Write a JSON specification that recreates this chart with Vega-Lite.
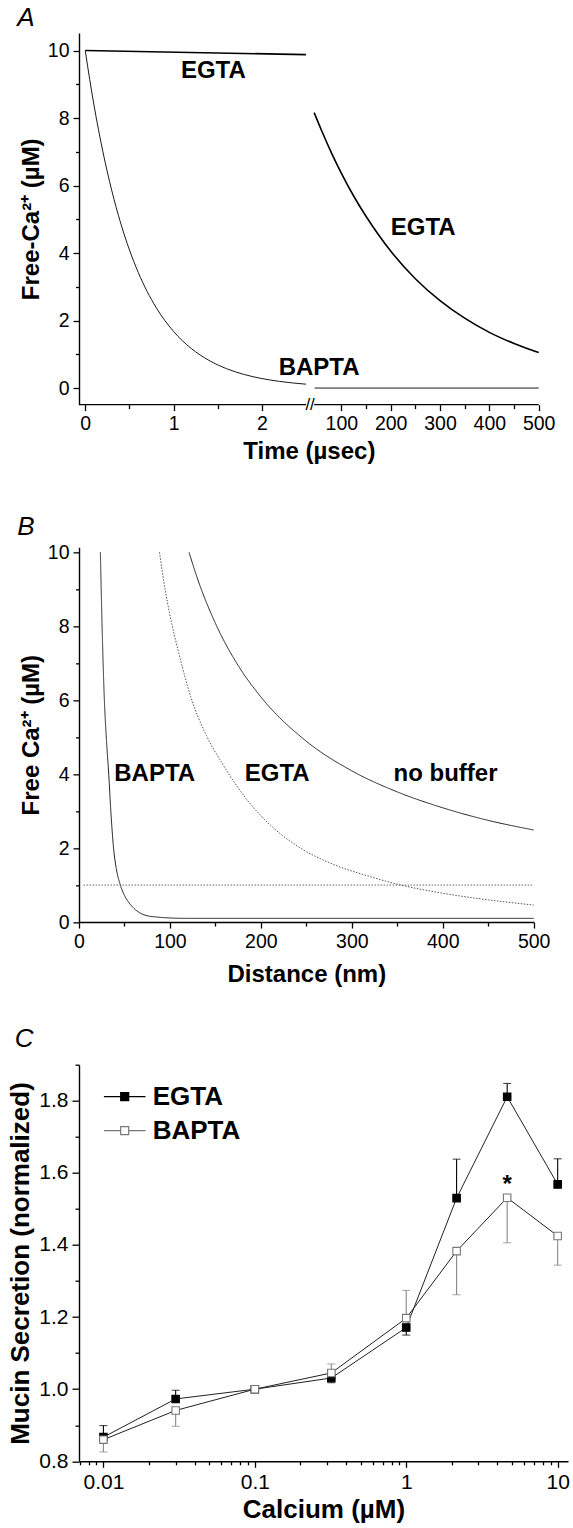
{
  "$schema": "https://vega.github.io/schema/vega-lite/v6.json",
  "padding": {"left": 7, "top": 5, "right": 0, "bottom": 5},
  "bounds": "flush",
  "spacing": 142.35,
  "resolve": {"scale": {"fill": "independent", "stroke": "independent", "color": "independent", "strokeWidth": "independent", "strokeDash": "independent"}, "legend": {"fill": "independent", "stroke": "independent"}},
  "config": {
    "view": {"stroke": null},
    "font": "Liberation Sans",
    "axis": {"grid": false, "domainColor": "#000", "domainWidth": 1.4, "tickColor": "#000", "tickWidth": 1.3, "labelColor": "#000", "labelFont": "Liberation Sans", "labelFontSize": 19.5, "labelPadding": 4, "titleFont": "Liberation Sans", "titleFontSize": 24, "titleFontWeight": "bold", "titleColor": "#000", "labelOverlap": false, "labelFlush": false, "tickCount": 200},
    "title": {"font": "Liberation Sans", "fontStyle": "italic", "fontWeight": "normal", "fontSize": 26, "anchor": "start", "frame": "bounds", "color": "#000"},
    "text": {"font": "Liberation Sans", "fontWeight": "bold", "fontSize": 24, "color": "#000"}
  },
  "datasets": {
    "aLines": [
      {"segment": "e1", "buffer": "EGTA", "t": 0, "v": 10},
      {"segment": "e1", "buffer": "EGTA", "t": 2.5, "v": 9.88},
      {"segment": "b1", "buffer": "BAPTA", "t": 0, "v": 10},
      {"segment": "b1", "buffer": "BAPTA", "t": 0.05, "v": 9.146},
      {"segment": "b1", "buffer": "BAPTA", "t": 0.1, "v": 8.364},
      {"segment": "b1", "buffer": "BAPTA", "t": 0.2, "v": 6.997},
      {"segment": "b1", "buffer": "BAPTA", "t": 0.3, "v": 5.853},
      {"segment": "b1", "buffer": "BAPTA", "t": 0.4, "v": 4.895},
      {"segment": "b1", "buffer": "BAPTA", "t": 0.5, "v": 4.095},
      {"segment": "b1", "buffer": "BAPTA", "t": 0.6, "v": 3.425},
      {"segment": "b1", "buffer": "BAPTA", "t": 0.8, "v": 2.397},
      {"segment": "b1", "buffer": "BAPTA", "t": 1.0, "v": 1.677},
      {"segment": "b1", "buffer": "BAPTA", "t": 1.2, "v": 1.173},
      {"segment": "b1", "buffer": "BAPTA", "t": 1.4, "v": 0.821},
      {"segment": "b1", "buffer": "BAPTA", "t": 1.6, "v": 0.574},
      {"segment": "b1", "buffer": "BAPTA", "t": 1.8, "v": 0.402},
      {"segment": "b1", "buffer": "BAPTA", "t": 2.0, "v": 0.281},
      {"segment": "b1", "buffer": "BAPTA", "t": 2.2, "v": 0.197},
      {"segment": "b1", "buffer": "BAPTA", "t": 2.5, "v": 0.115},
      {"segment": "e2", "buffer": "EGTA", "t": 45, "v": 8.16},
      {"segment": "e2", "buffer": "EGTA", "t": 60, "v": 7.63},
      {"segment": "e2", "buffer": "EGTA", "t": 80, "v": 6.97},
      {"segment": "e2", "buffer": "EGTA", "t": 100, "v": 6.37},
      {"segment": "e2", "buffer": "EGTA", "t": 125, "v": 5.69},
      {"segment": "e2", "buffer": "EGTA", "t": 150, "v": 5.09},
      {"segment": "e2", "buffer": "EGTA", "t": 175, "v": 4.55},
      {"segment": "e2", "buffer": "EGTA", "t": 200, "v": 4.06},
      {"segment": "e2", "buffer": "EGTA", "t": 250, "v": 3.24},
      {"segment": "e2", "buffer": "EGTA", "t": 300, "v": 2.59},
      {"segment": "e2", "buffer": "EGTA", "t": 350, "v": 2.07},
      {"segment": "e2", "buffer": "EGTA", "t": 400, "v": 1.65},
      {"segment": "e2", "buffer": "EGTA", "t": 450, "v": 1.32},
      {"segment": "e2", "buffer": "EGTA", "t": 500, "v": 1.05},
      {"segment": "b2", "buffer": "BAPTA", "t": 46, "v": 0},
      {"segment": "b2", "buffer": "BAPTA", "t": 500, "v": 0}
    ],
    "aAxisSegs": [
      {"from": -0.071, "to": 2.5},
      {"from": 45, "to": 500}
    ],
    "aLabels": [
      {"t": 1.45, "v": 9.38, "label": "EGTA"},
      {"t": 266, "v": 4.74, "label": "EGTA"},
      {"t": 55, "v": 0.59, "label": "BAPTA"}
    ],
    "bLines": [
      {"curve": "BAPTA", "d": 23.5, "c": 10},
      {"curve": "BAPTA", "d": 25.4, "c": 8},
      {"curve": "BAPTA", "d": 27.9, "c": 6},
      {"curve": "BAPTA", "d": 30, "c": 5},
      {"curve": "BAPTA", "d": 32.7, "c": 4},
      {"curve": "BAPTA", "d": 35, "c": 3},
      {"curve": "BAPTA", "d": 38, "c": 2},
      {"curve": "BAPTA", "d": 41, "c": 1.45},
      {"curve": "BAPTA", "d": 45.5, "c": 1},
      {"curve": "BAPTA", "d": 50, "c": 0.72},
      {"curve": "BAPTA", "d": 54.8, "c": 0.53},
      {"curve": "BAPTA", "d": 60, "c": 0.38},
      {"curve": "BAPTA", "d": 67.6, "c": 0.24},
      {"curve": "BAPTA", "d": 75, "c": 0.17},
      {"curve": "BAPTA", "d": 86, "c": 0.135},
      {"curve": "BAPTA", "d": 100, "c": 0.11},
      {"curve": "BAPTA", "d": 120, "c": 0.1},
      {"curve": "BAPTA", "d": 500, "c": 0.1},
      {"curve": "EGTA", "d": 88.5, "c": 10},
      {"curve": "EGTA", "d": 95, "c": 8.95},
      {"curve": "EGTA", "d": 100, "c": 8.3},
      {"curve": "EGTA", "d": 110, "c": 7.25},
      {"curve": "EGTA", "d": 122.8, "c": 6.1},
      {"curve": "EGTA", "d": 140, "c": 5.05},
      {"curve": "EGTA", "d": 159, "c": 4.23},
      {"curve": "EGTA", "d": 185, "c": 3.3},
      {"curve": "EGTA", "d": 215, "c": 2.52},
      {"curve": "EGTA", "d": 245, "c": 1.98},
      {"curve": "EGTA", "d": 279.7, "c": 1.56},
      {"curve": "EGTA", "d": 320, "c": 1.23},
      {"curve": "EGTA", "d": 354, "c": 1.0},
      {"curve": "EGTA", "d": 400, "c": 0.78},
      {"curve": "EGTA", "d": 450, "c": 0.6},
      {"curve": "EGTA", "d": 500, "c": 0.46},
      {"curve": "none", "d": 121, "c": 10},
      {"curve": "none", "d": 130, "c": 9.31},
      {"curve": "none", "d": 150, "c": 8.08},
      {"curve": "none", "d": 175, "c": 6.94},
      {"curve": "none", "d": 200, "c": 6.09},
      {"curve": "none", "d": 250, "c": 4.89},
      {"curve": "none", "d": 300, "c": 4.09},
      {"curve": "none", "d": 350, "c": 3.52},
      {"curve": "none", "d": 400, "c": 3.09},
      {"curve": "none", "d": 450, "c": 2.75},
      {"curve": "none", "d": 500, "c": 2.49},
      {"curve": "ref", "d": 5, "c": 1},
      {"curve": "ref", "d": 500, "c": 1}
    ],
    "bLabels": [
      {"d": 83.2, "c": 4.0, "label": "BAPTA"},
      {"d": 218, "c": 4.0, "label": "EGTA"},
      {"d": 403, "c": 4.0, "label": "no buffer"}
    ],
    "cData": [
      {"ca": 0.01, "buffer": "EGTA", "m": 0.867, "lo": 0.867, "hi": 0.899},
      {"ca": 0.03, "buffer": "EGTA", "m": 0.973, "lo": 0.973, "hi": 0.997},
      {"ca": 0.1, "buffer": "EGTA", "m": 1.0, "lo": 1.0, "hi": 1.0},
      {"ca": 0.32, "buffer": "EGTA", "m": 1.031, "lo": 1.018, "hi": 1.031},
      {"ca": 1, "buffer": "EGTA", "m": 1.171, "lo": 1.15, "hi": 1.171},
      {"ca": 2.15, "buffer": "EGTA", "m": 1.53, "lo": 1.53, "hi": 1.638},
      {"ca": 4.64, "buffer": "EGTA", "m": 1.811, "lo": 1.811, "hi": 1.848},
      {"ca": 10, "buffer": "EGTA", "m": 1.568, "lo": 1.568, "hi": 1.639},
      {"ca": 0.01, "buffer": "BAPTA", "m": 0.86, "lo": 0.826, "hi": 0.86},
      {"ca": 0.03, "buffer": "BAPTA", "m": 0.941, "lo": 0.897, "hi": 0.941},
      {"ca": 0.1, "buffer": "BAPTA", "m": 1.0, "lo": 1.0, "hi": 1.0},
      {"ca": 0.32, "buffer": "BAPTA", "m": 1.045, "lo": 1.045, "hi": 1.07},
      {"ca": 1, "buffer": "BAPTA", "m": 1.197, "lo": 1.197, "hi": 1.274},
      {"ca": 2.15, "buffer": "BAPTA", "m": 1.383, "lo": 1.262, "hi": 1.383},
      {"ca": 4.64, "buffer": "BAPTA", "m": 1.531, "lo": 1.406, "hi": 1.531},
      {"ca": 10, "buffer": "BAPTA", "m": 1.425, "lo": 1.344, "hi": 1.425}
    ]
  },
  "vconcat": [
    {
      "width": 459.7,
      "height": 371.6,
      "title": {"text": "A", "dx": -2, "offset": 2},
      "layer": [
        {
          "data": {"name": "aLines"},
          "mark": {"type": "line", "interpolate": "monotone", "color": "#000"},
          "encoding": {
            "x": {"field": "t", "type": "quantitative", "scale": {"domain": [-0.071, 2.5, 45, 500], "range": [0, 227.05, 235.16, 459.7], "nice": false, "zero": false}, "title": "Time (µsec)",
              "axis": {"domain": false, "values": [0, 0.5, 1, 1.5, 2, 100, 150, 200, 250, 300, 350, 400, 450, 500],
                "labelExpr": "(datum.value % 1 == 0 && (datum.value < 3 || datum.value % 100 == 0)) ? '' + datum.value : ''",
                "tickSize": {"condition": {"test": "datum.value % 1 == 0 && (datum.value < 3 || datum.value % 100 == 0)", "value": 6}, "value": 4},
                "titlePadding": 6}},
            "y": {"field": "v", "type": "quantitative", "scale": {"domain": [-0.49, 10.52], "nice": false, "zero": false}, "title": "Free-Ca²⁺ (µM)",
              "axis": {"values": [0, 1, 2, 3, 4, 5, 6, 7, 8, 9, 10],
                "labelExpr": "datum.value % 2 == 0 ? '' + datum.value : ''",
                "tickSize": {"condition": {"test": "datum.value % 2 == 0", "value": 6}, "value": 3.5},
                "titlePadding": 4}},
            "detail": {"field": "segment"},
            "strokeWidth": {"field": "buffer", "type": "nominal", "scale": {"domain": ["EGTA", "BAPTA"], "range": [1.6, 0.9]}, "legend": null}
          }
        },
        {
          "data": {"name": "aAxisSegs"},
          "mark": {"type": "rule", "color": "#000", "strokeWidth": 1.4},
          "encoding": {
            "x": {"field": "from", "type": "quantitative", "title": "Time (µsec)"},
            "x2": {"field": "to"},
            "y": {"datum": -0.49}
          }
        },
        {
          "data": {"values": [{"t": 23.75, "s": "//"}]},
          "mark": {"type": "text", "fontSize": 17, "fontWeight": "normal", "baseline": "middle"},
          "encoding": {
            "x": {"field": "t", "type": "quantitative", "title": "Time (µsec)"},
            "y": {"datum": -0.49},
            "text": {"field": "s"}
          }
        },
        {
          "data": {"name": "aLabels"},
          "mark": {"type": "text", "baseline": "middle"},
          "encoding": {
            "x": {"field": "t", "type": "quantitative", "title": "Time (µsec)"},
            "y": {"field": "v", "type": "quantitative", "title": "Free-Ca²⁺ (µM)"},
            "text": {"field": "label"}
          }
        }
      ]
    },
    {
      "width": 454.7,
      "height": 374.7,
      "title": {"text": "B", "dx": -2, "offset": 2},
      "layer": [
        {
          "data": {"name": "bLines"},
          "mark": {"type": "line", "interpolate": "monotone", "strokeWidth": 1},
          "encoding": {
            "x": {"field": "d", "type": "quantitative", "scale": {"domain": [0, 500], "nice": false}, "title": "Distance (nm)",
              "axis": {"values": [0, 50, 100, 150, 200, 250, 300, 350, 400, 450, 500],
                "labelExpr": "datum.value % 100 == 0 ? '' + datum.value : ''",
                "tickSize": {"condition": {"test": "datum.value % 100 == 0", "value": 6}, "value": 4},
                "titlePadding": 12}},
            "y": {"field": "c", "type": "quantitative", "scale": {"domain": [0, 10.135], "nice": false}, "title": "Free Ca²⁺ (µM)",
              "axis": {"values": [0, 1, 2, 3, 4, 5, 6, 7, 8, 9, 10],
                "labelExpr": "datum.value % 2 == 0 ? '' + datum.value : ''",
                "tickSize": {"condition": {"test": "datum.value % 2 == 0", "value": 6}, "value": 3.5},
                "titlePadding": 4}},
            "detail": {"field": "curve"},
            "strokeDash": {"field": "curve", "type": "nominal", "scale": {"domain": ["BAPTA", "EGTA", "none", "ref"], "range": [[1, 0], [1.5, 1.5], [1, 0], [1.5, 1.5]]}, "legend": null},
            "color": {"field": "curve", "type": "nominal", "scale": {"domain": ["BAPTA", "EGTA", "none", "ref"], "range": ["#222", "#555", "#222", "#666"]}, "legend": null}
          }
        },
        {
          "data": {"name": "bLabels"},
          "mark": {"type": "text", "baseline": "middle"},
          "encoding": {
            "x": {"field": "d", "type": "quantitative", "title": "Distance (nm)"},
            "y": {"field": "c", "type": "quantitative", "title": "Free Ca²⁺ (µM)"},
            "text": {"field": "label"}
          }
        }
      ]
    },
    {
      "width": 489,
      "height": 396.6,
      "title": {"text": "C", "dx": 7, "offset": 2},
      "data": {"name": "cData"},
      "encoding": {
        "x": {"field": "ca", "type": "quantitative", "scale": {"type": "log", "domain": [0.0069, 11.7], "nice": false}, "title": "Calcium (µM)",
          "axis": {"values": [0.007, 0.008, 0.009, 0.01, 0.02, 0.03, 0.04, 0.05, 0.06, 0.07, 0.08, 0.09, 0.1, 0.2, 0.3, 0.4, 0.5, 0.6, 0.7, 0.8, 0.9, 1, 2, 3, 4, 5, 6, 7, 8, 9, 10],
            "labelExpr": "(datum.value == 0.01 || datum.value == 0.1 || datum.value == 1 || datum.value == 10) ? '' + datum.value : ''",
            "tickSize": {"condition": {"test": "datum.value == 0.01 || datum.value == 0.1 || datum.value == 1 || datum.value == 10", "value": 6}, "value": 3.5},
            "labelFontSize": 21, "titleFontSize": 26, "titlePadding": 4}}
      },
      "layer": [
        {
          "mark": {"type": "line", "color": "#222", "strokeWidth": 1},
          "encoding": {
            "y": {"field": "m", "type": "quantitative", "scale": {"domain": [0.8, 1.9], "nice": false, "zero": false}, "title": "Mucin Secretion (normalized)",
              "axis": {"values": [0.8, 0.9, 1.0, 1.1, 1.2, 1.3, 1.4, 1.5, 1.6, 1.7, 1.8, 1.9],
                "labelExpr": "round(datum.value * 10) % 2 == 0 ? format(datum.value, '.1f') : ''",
                "tickSize": {"condition": {"test": "round(datum.value * 10) % 2 == 0", "value": 7}, "value": 4},
                "labelFontSize": 21, "titleFontSize": 26, "titlePadding": 5}},
            "detail": {"field": "buffer"}
          }
        },
        {
          "transform": [{"filter": "datum.buffer == 'EGTA'"}],
          "mark": {"type": "errorbar", "ticks": {"size": 8}, "color": "#000", "thickness": 1.1},
          "encoding": {
            "y": {"field": "lo", "type": "quantitative", "title": "Mucin Secretion (normalized)"},
            "y2": {"field": "hi"}
          }
        },
        {
          "transform": [{"filter": "datum.buffer == 'BAPTA'"}],
          "mark": {"type": "errorbar", "ticks": {"size": 8}, "color": "#888", "thickness": 1.1},
          "encoding": {
            "y": {"field": "lo", "type": "quantitative", "title": "Mucin Secretion (normalized)"},
            "y2": {"field": "hi"}
          }
        },
        {
          "mark": {"type": "point", "shape": "square", "size": 56, "opacity": 1, "strokeWidth": 1.1},
          "encoding": {
            "y": {"field": "m", "type": "quantitative", "title": "Mucin Secretion (normalized)"},
            "fill": {"field": "buffer", "type": "nominal", "scale": {"domain": ["EGTA", "BAPTA"], "range": ["#000", "#fff"]},
              "legend": {"orient": "none", "legendX": 32.7, "legendY": 19, "title": null, "symbolType": "M-2.6,0H-0.5M0.5,0H2.6M-0.5,-0.5H0.5V0.5H-0.5Z", "symbolSize": 256, "symbolStrokeWidth": 1.2, "labelFont": "Liberation Sans", "labelFontSize": 26, "labelFontWeight": "bold", "labelColor": "#000", "labelOffset": 15, "rowPadding": 8, "padding": 0}},
            "stroke": {"field": "buffer", "type": "nominal", "scale": {"domain": ["EGTA", "BAPTA"], "range": ["#000", "#777"]},
              "legend": {"orient": "none", "legendX": 32.7, "legendY": 19, "title": null, "symbolType": "M-2.6,0H-0.5M0.5,0H2.6M-0.5,-0.5H0.5V0.5H-0.5Z", "symbolSize": 256, "symbolStrokeWidth": 1.2, "labelFont": "Liberation Sans", "labelFontSize": 26, "labelFontWeight": "bold", "labelColor": "#000", "labelOffset": 15, "rowPadding": 8, "padding": 0}}
          }
        },
        {
          "data": {"values": [{"ca": 4.64, "y": 1.546, "s": "*"}]},
          "mark": {"type": "text", "baseline": "alphabetic", "fontSize": 24},
          "encoding": {
            "y": {"field": "y", "type": "quantitative", "title": "Mucin Secretion (normalized)"},
            "text": {"field": "s"}
          }
        }
      ]
    }
  ]
}
